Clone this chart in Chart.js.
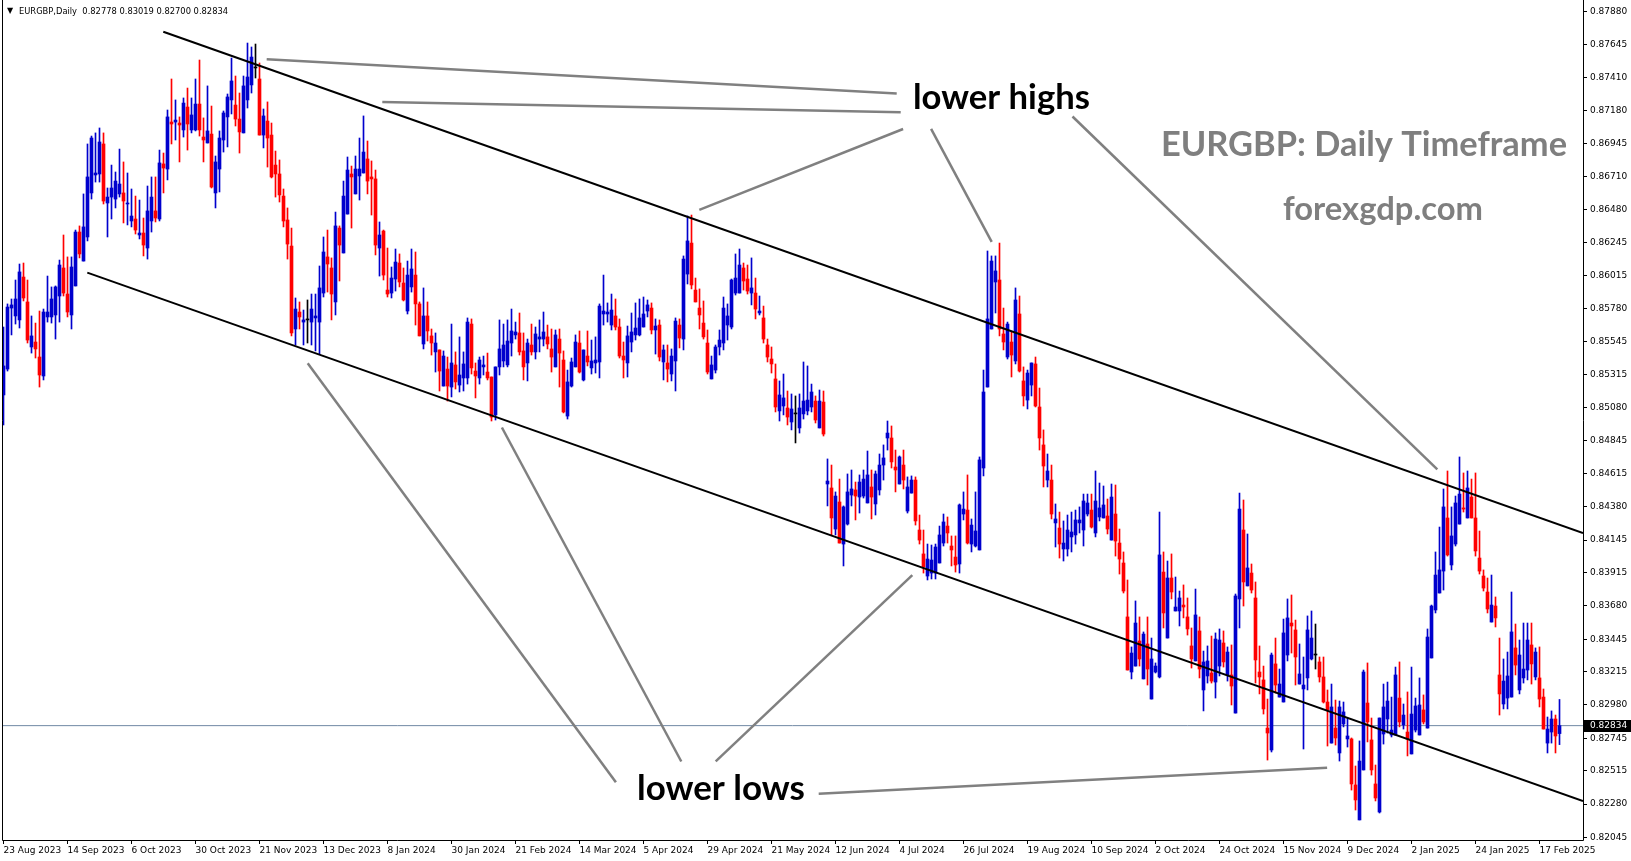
<!DOCTYPE html>
<html>
<head>
<meta charset="utf-8">
<title>EURGBP Daily</title>
<script src="https://cdn.jsdelivr.net/npm/chart.js@4.4.1/dist/chart.umd.min.js"></script>
<style>
  html, body { margin: 0; padding: 0; background: #ffffff; overflow: hidden; }
  canvas { display: block; }
</style>
</head>
<body>
<canvas id="eurgbp-chart" width="1631" height="861"></canvas>
<script>
/* ---- data: daily candles, 23 Aug 2023 .. Feb 2025 (one entry per bar) ---- */
const dateLabels = [
  "23 Aug 2023", "14 Sep 2023", "6 Oct 2023", "30 Oct 2023", "21 Nov 2023",
  "13 Dec 2023", "8 Jan 2024", "30 Jan 2024", "21 Feb 2024", "14 Mar 2024",
  "5 Apr 2024", "29 Apr 2024", "21 May 2024", "12 Jun 2024", "4 Jul 2024",
  "26 Jul 2024", "19 Aug 2024", "10 Sep 2024", "2 Oct 2024", "24 Oct 2024",
  "15 Nov 2024", "9 Dec 2024", "2 Jan 2025", "24 Jan 2025", "17 Feb 2025"
];
const dateTickBars = [0, 16, 32, 48, 64, 80, 96, 112, 128, 144, 160, 176, 192,
  208, 224, 240, 256, 272, 288, 304, 320, 336, 352, 368, 384];

const priceTicks = [0.87880, 0.87645, 0.87410, 0.87180, 0.86945, 0.86710, 0.86480,
  0.86245, 0.86015, 0.85780, 0.85545, 0.85315, 0.85080, 0.84845, 0.84615, 0.84380,
  0.84145, 0.83915, 0.83680, 0.83445, 0.83215, 0.82980, 0.82745, 0.82515, 0.82280, 0.82045];

const open = [
  0.85170,0.85353,0.85784,0.85728,0.85700,0.86003,0.85827,0.85509,0.85544,0.85438,
  0.85304,0.85721,0.85721,0.85735,0.85869,0.86067,0.85883,0.85735,0.85940,0.86321,
  0.86116,0.86286,0.86597,0.86724,0.86731,0.86943,0.86526,0.86568,0.86554,0.86590,
  0.86597,0.86519,0.86399,0.86413,0.86300,0.86314,0.86208,0.86399,0.86470,0.86413,
  0.86802,0.86766,0.87098,0.87098,0.87091,0.87042,0.87204,0.87042,0.87042,0.87225,
  0.86992,0.86950,0.87013,0.86597,0.86766,0.86971,0.87134,0.87254,0.87218,0.87119,
  0.87021,0.87254,0.87360,0.87480,0.87402,0.87006,0.87105,0.87006,0.86794,0.86731,
  0.86575,0.86406,0.86222,0.85636,0.85756,0.85685,0.85700,0.85685,0.85714,0.85685,
  0.85890,0.86145,0.86067,0.85827,0.86349,0.86173,0.86448,0.86731,0.86590,0.86717,
  0.86738,0.86837,0.86710,0.86696,0.86208,0.86328,0.85911,0.85890,0.85989,0.86102,
  0.85961,0.85763,0.85933,0.86017,0.85813,0.85530,0.85728,0.85587,0.85474,0.85488,
  0.85233,0.85353,0.85226,0.85382,0.85240,0.85290,0.85290,0.85671,0.85339,0.85290,
  0.85368,0.85332,0.85297,0.85029,0.85368,0.85410,0.85382,0.85537,0.85594,0.85608,
  0.85481,0.85396,0.85523,0.85474,0.85565,0.85565,0.85580,0.85495,0.85368,0.85565,
  0.85417,0.85021,0.85233,0.85368,0.85537,0.85276,0.85445,0.85361,0.85396,0.85403,
  0.85742,0.85742,0.85664,0.85728,0.85650,0.85445,0.85396,0.85544,0.85594,0.85594,
  0.85650,0.85763,0.85784,0.85629,0.85664,0.85403,0.85396,0.85318,0.85410,0.85664,
  0.85565,0.86024,0.86243,0.85911,0.85784,0.85678,0.85537,0.85283,0.85346,0.85509,
  0.85537,0.85664,0.85650,0.85890,0.85890,0.86067,0.85989,0.85890,0.85890,0.85749,
  0.85714,0.85523,0.85424,0.85283,0.85057,0.85092,0.85078,0.84979,0.85036,0.84937,
  0.85036,0.85057,0.85085,0.85127,0.84937,0.85120,0.84541,0.84513,0.84223,0.84414,
  0.84117,0.84258,0.84463,0.84499,0.84449,0.84456,0.84407,0.84520,0.84400,0.84499,
  0.84675,0.84866,0.84866,0.84661,0.84541,0.84675,0.84350,0.84477,0.84569,0.84216,
  0.84047,0.83891,0.83912,0.83912,0.83983,0.84124,0.84244,0.84103,0.84025,0.83976,
  0.84329,0.84357,0.84117,0.84103,0.84075,0.84654,0.85226,0.85636,0.85968,0.85982,
  0.85601,0.85438,0.85544,0.85410,0.85742,0.85269,0.85134,0.85240,0.85389,0.85085,
  0.84817,0.84569,0.84569,0.84266,0.84230,0.84082,0.84082,0.84167,0.84181,0.84266,
  0.84216,0.84329,0.84357,0.84195,0.84308,0.84301,0.84315,0.84145,0.84329,0.84124,
  0.83983,0.83602,0.83213,0.83255,0.83432,0.83164,0.83411,0.83022,0.83213,0.83178,
  0.83919,0.83453,0.83877,0.83644,0.83644,0.83686,0.83602,0.83397,0.83291,0.83503,
  0.83086,0.83185,0.83206,0.83142,0.83255,0.83418,0.83192,0.83192,0.82923,0.83729,
  0.84216,0.83821,0.83912,0.83736,0.83213,0.83157,0.82817,0.82662,0.83270,0.83036,
  0.83001,0.83333,0.83559,0.83510,0.83128,0.83093,0.83171,0.83305,0.83333,0.83284,
  0.83178,0.83001,0.82711,0.82817,0.82641,0.82846,0.82740,0.82740,0.82415,0.82168,
  0.82521,0.82994,0.82733,0.82422,0.82224,0.82775,0.82881,0.82768,0.82768,0.83029,
  0.82839,0.82789,0.82634,0.82803,0.82768,0.82945,0.82817,0.83312,0.83651,0.83771,
  0.83926,0.84301,0.83969,0.84117,0.84258,0.84372,0.84301,0.84449,0.84301,0.84018,
  0.83891,0.83778,0.83566,0.83679,0.83192,0.82987,0.83029,0.83036,0.83383,0.83086,
  0.83171,0.83227,0.83404,0.83178,0.83171,0.83036,0.82711,0.82789,0.82881,0.82778
];
const high = [
  0.85650,0.85813,0.85848,0.85982,0.86095,0.86102,0.85982,0.85728,0.85678,0.85763,
  0.85777,0.86010,0.85933,0.85940,0.86123,0.86300,0.86145,0.86145,0.86335,0.86364,
  0.86590,0.86943,0.86999,0.87021,0.87056,0.87021,0.86632,0.86794,0.86745,0.86907,
  0.86816,0.86738,0.86625,0.86575,0.86547,0.86420,0.86646,0.86710,0.86710,0.86900,
  0.86879,0.87183,0.87402,0.87254,0.87134,0.87268,0.87338,0.87268,0.87402,0.87536,
  0.87127,0.87353,0.87211,0.86858,0.87035,0.87176,0.87296,0.87550,0.87423,0.87303,
  0.87423,0.87656,0.87628,0.87649,0.87515,0.87190,0.87240,0.87091,0.86893,0.86830,
  0.86625,0.86491,0.86349,0.85855,0.85827,0.85770,0.85841,0.85883,0.85883,0.86081,
  0.86286,0.86335,0.86138,0.86462,0.86364,0.86681,0.86851,0.86787,0.86858,0.86985,
  0.87141,0.86964,0.86823,0.86759,0.86392,0.86335,0.86208,0.86074,0.86201,0.86166,
  0.86067,0.86116,0.86201,0.86180,0.85827,0.85926,0.85827,0.85636,0.85608,0.85488,
  0.85481,0.85438,0.85671,0.85474,0.85580,0.85474,0.85714,0.85707,0.85396,0.85438,
  0.85445,0.85466,0.85297,0.85368,0.85700,0.85671,0.85700,0.85777,0.85685,0.85749,
  0.85608,0.85565,0.85671,0.85650,0.85700,0.85756,0.85664,0.85636,0.85629,0.85636,
  0.85481,0.85346,0.85431,0.85594,0.85622,0.85488,0.85622,0.85558,0.85580,0.85813,
  0.86017,0.85820,0.85883,0.85848,0.85707,0.85544,0.85657,0.85749,0.85820,0.85848,
  0.85862,0.85841,0.85820,0.85707,0.85700,0.85523,0.85523,0.85495,0.85714,0.85707,
  0.86152,0.86434,0.86441,0.85996,0.85919,0.85834,0.85629,0.85445,0.85523,0.85629,
  0.85862,0.85813,0.85989,0.86166,0.86201,0.86102,0.86088,0.86138,0.85996,0.85869,
  0.85798,0.85565,0.85509,0.85389,0.85269,0.85318,0.85198,0.85177,0.85163,0.85177,
  0.85403,0.85375,0.85247,0.85163,0.85205,0.85198,0.84718,0.84675,0.84485,0.84576,
  0.84386,0.84612,0.84640,0.84555,0.84605,0.84640,0.84774,0.84640,0.84633,0.84753,
  0.84817,0.84986,0.84951,0.84781,0.84739,0.84781,0.84591,0.84598,0.84591,0.84322,
  0.84216,0.84117,0.84110,0.84117,0.84244,0.84329,0.84308,0.84174,0.84174,0.84400,
  0.84485,0.84605,0.84294,0.84485,0.84732,0.85346,0.86187,0.86152,0.86152,0.86243,
  0.85784,0.85685,0.85615,0.85926,0.85869,0.85368,0.85346,0.85396,0.85438,0.85219,
  0.84923,0.84753,0.84675,0.84400,0.84343,0.84280,0.84322,0.84343,0.84357,0.84379,
  0.84470,0.84470,0.84470,0.84633,0.84548,0.84527,0.84435,0.84541,0.84534,0.84223,
  0.84061,0.83863,0.83390,0.83715,0.83602,0.83496,0.83602,0.83453,0.83277,0.84343,
  0.84061,0.83997,0.84047,0.83884,0.83785,0.83828,0.83736,0.83524,0.83799,0.83602,
  0.83361,0.83397,0.83467,0.83489,0.83517,0.83503,0.83390,0.83404,0.83764,0.84477,
  0.84428,0.84188,0.83976,0.83849,0.83397,0.83255,0.83022,0.83347,0.83453,0.83234,
  0.83587,0.83729,0.83757,0.83580,0.83411,0.83319,0.83609,0.83644,0.83552,0.83319,
  0.83319,0.83086,0.83128,0.83015,0.83008,0.83001,0.82888,0.82747,0.82549,0.82726,
  0.83227,0.83277,0.82888,0.82556,0.82888,0.83128,0.83142,0.83036,0.83248,0.83284,
  0.82987,0.83072,0.83248,0.83029,0.83171,0.83051,0.83517,0.83686,0.84061,0.84237,
  0.84506,0.84633,0.84379,0.84456,0.84732,0.84619,0.84633,0.84576,0.84619,0.84209,
  0.83934,0.83877,0.83898,0.83743,0.83453,0.83305,0.83354,0.83778,0.83552,0.83439,
  0.83559,0.83559,0.83559,0.83383,0.83390,0.83093,0.82895,0.82938,0.82909,0.83019
];
const low = [
  0.84958,0.85339,0.85594,0.85671,0.85643,0.85834,0.85537,0.85466,0.85431,0.85226,
  0.85276,0.85685,0.85678,0.85565,0.85685,0.85869,0.85721,0.85636,0.85940,0.86138,
  0.86116,0.86258,0.86554,0.86674,0.86674,0.86519,0.86286,0.86413,0.86491,0.86568,
  0.86385,0.86371,0.86357,0.86307,0.86272,0.86152,0.86130,0.86321,0.86392,0.86399,
  0.86597,0.86689,0.86943,0.86971,0.86816,0.86992,0.86900,0.87021,0.87035,0.86999,
  0.86816,0.86950,0.86632,0.86491,0.86604,0.86886,0.86922,0.87155,0.87070,0.86879,
  0.87021,0.87197,0.87303,0.87409,0.87006,0.86915,0.86780,0.86703,0.86568,0.86533,
  0.86357,0.86130,0.85587,0.85523,0.85636,0.85523,0.85537,0.85523,0.85481,0.85459,
  0.85862,0.85897,0.85700,0.85735,0.85975,0.86173,0.86448,0.86349,0.86590,0.86547,
  0.86738,0.86590,0.86441,0.86159,0.86010,0.85982,0.85862,0.85855,0.85904,0.85933,
  0.85834,0.85742,0.85897,0.85664,0.85587,0.85495,0.85551,0.85452,0.85332,0.85198,
  0.85233,0.85127,0.85156,0.85212,0.85191,0.85198,0.85247,0.85318,0.85149,0.85247,
  0.85311,0.85276,0.84986,0.84993,0.85311,0.85368,0.85368,0.85445,0.85565,0.85452,
  0.85276,0.85269,0.85452,0.85424,0.85474,0.85516,0.85495,0.85332,0.85368,0.85226,
  0.85043,0.85000,0.85226,0.85368,0.85325,0.85269,0.85375,0.85318,0.85325,0.85290,
  0.85664,0.85685,0.85629,0.85629,0.85431,0.85290,0.85297,0.85474,0.85558,0.85587,
  0.85650,0.85721,0.85601,0.85459,0.85410,0.85276,0.85262,0.85269,0.85198,0.85502,
  0.85488,0.85954,0.85919,0.85827,0.85636,0.85565,0.85318,0.85283,0.85325,0.85452,
  0.85488,0.85558,0.85636,0.85876,0.85890,0.85911,0.85883,0.85806,0.85707,0.85735,
  0.85537,0.85403,0.85325,0.85050,0.84986,0.85029,0.84958,0.84923,0.84831,0.84901,
  0.85000,0.85029,0.85050,0.84972,0.84937,0.84880,0.84386,0.84181,0.84181,0.84124,
  0.83962,0.84251,0.84386,0.84287,0.84336,0.84442,0.84407,0.84294,0.84322,0.84463,
  0.84569,0.84781,0.84654,0.84485,0.84541,0.84506,0.84336,0.84477,0.84251,0.84117,
  0.83912,0.83863,0.83870,0.83870,0.83983,0.84103,0.84124,0.83962,0.83919,0.83912,
  0.84287,0.84117,0.84061,0.84096,0.84075,0.84598,0.85226,0.85636,0.85749,0.85587,
  0.85488,0.85424,0.85297,0.85389,0.85332,0.85092,0.85071,0.85163,0.85085,0.84781,
  0.84520,0.84520,0.84294,0.84096,0.84018,0.83997,0.84032,0.84061,0.84117,0.84195,
  0.84103,0.84315,0.84230,0.84167,0.84280,0.84301,0.84188,0.84145,0.84032,0.83905,
  0.83771,0.83227,0.83164,0.83255,0.83255,0.83164,0.83121,0.83022,0.83206,0.83171,
  0.83524,0.83453,0.83729,0.83644,0.83538,0.83595,0.83474,0.83241,0.83291,0.83171,
  0.82938,0.83135,0.83135,0.83029,0.83185,0.83248,0.83149,0.82980,0.82923,0.83524,
  0.83679,0.83821,0.83771,0.83135,0.83058,0.82916,0.82591,0.82648,0.83065,0.83036,
  0.83001,0.83291,0.83347,0.83121,0.83128,0.82669,0.83086,0.83298,0.83234,0.83142,
  0.82994,0.82690,0.82711,0.82697,0.82584,0.82825,0.82683,0.82379,0.82238,0.82168,
  0.82521,0.82719,0.82485,0.82302,0.82217,0.82704,0.82782,0.82754,0.82768,0.82825,
  0.82810,0.82620,0.82634,0.82789,0.82768,0.82846,0.82817,0.83312,0.83630,0.83771,
  0.83792,0.84032,0.83934,0.84103,0.84258,0.84343,0.84301,0.84301,0.84032,0.83905,
  0.83785,0.83630,0.83566,0.83531,0.82909,0.82952,0.82952,0.83036,0.83192,0.83058,
  0.83135,0.83157,0.83128,0.83157,0.82966,0.82810,0.82641,0.82711,0.82641,0.82700
];
const close = [
  0.85375,0.85791,0.85806,0.85848,0.86039,0.85855,0.85558,0.85587,0.85495,0.85311,
  0.85756,0.85756,0.85848,0.85933,0.86088,0.85890,0.85756,0.86074,0.86321,0.86166,
  0.86357,0.86710,0.86985,0.86738,0.86957,0.86540,0.86568,0.86632,0.86681,0.86660,
  0.86540,0.86526,0.86434,0.86335,0.86314,0.86229,0.86470,0.86568,0.86420,0.86809,
  0.86773,0.87134,0.87084,0.87112,0.87077,0.87232,0.87084,0.87148,0.87225,0.87042,
  0.86971,0.87035,0.86639,0.86816,0.86985,0.87162,0.87275,0.87388,0.87119,0.87028,
  0.87353,0.87416,0.87557,0.87480,0.87006,0.87141,0.86985,0.86710,0.86731,0.86583,
  0.86399,0.86236,0.85608,0.85777,0.85721,0.85700,0.85700,0.85777,0.85728,0.85926,
  0.86180,0.86095,0.85883,0.86364,0.86229,0.86575,0.86759,0.86710,0.86766,0.86766,
  0.86886,0.86681,0.86696,0.86229,0.86300,0.86017,0.85883,0.85996,0.86109,0.85968,
  0.85841,0.86017,0.86060,0.85813,0.85587,0.85728,0.85622,0.85537,0.85537,0.85339,
  0.85445,0.85233,0.85396,0.85262,0.85311,0.85389,0.85685,0.85361,0.85304,0.85417,
  0.85382,0.85290,0.85014,0.85368,0.85495,0.85523,0.85551,0.85622,0.85615,0.85474,
  0.85368,0.85537,0.85474,0.85601,0.85580,0.85615,0.85530,0.85438,0.85594,0.85466,
  0.85050,0.85262,0.85403,0.85544,0.85332,0.85488,0.85403,0.85410,0.85417,0.85798,
  0.85763,0.85756,0.85770,0.85650,0.85445,0.85417,0.85587,0.85615,0.85643,0.85714,
  0.85742,0.85806,0.85629,0.85657,0.85438,0.85488,0.85353,0.85445,0.85692,0.85572,
  0.86130,0.86258,0.85947,0.85827,0.85735,0.85580,0.85332,0.85382,0.85509,0.85558,
  0.85784,0.85728,0.85982,0.85996,0.86088,0.85975,0.85904,0.85926,0.85777,0.85763,
  0.85565,0.85438,0.85389,0.85085,0.85170,0.85149,0.85014,0.85071,0.85036,0.85078,
  0.85127,0.85134,0.85191,0.84993,0.85127,0.84894,0.84562,0.84301,0.84456,0.84124,
  0.84379,0.84485,0.84506,0.84456,0.84555,0.84576,0.84605,0.84449,0.84612,0.84675,
  0.84725,0.84901,0.84697,0.84640,0.84732,0.84569,0.84520,0.84569,0.84280,0.84145,
  0.83955,0.84011,0.84004,0.84096,0.84181,0.84273,0.84195,0.84075,0.83969,0.84393,
  0.84364,0.84124,0.84251,0.84209,0.84711,0.85191,0.85707,0.86116,0.86046,0.85636,
  0.85544,0.85671,0.85452,0.85841,0.85339,0.85163,0.85325,0.85396,0.85092,0.84866,
  0.84668,0.84633,0.84329,0.84294,0.84117,0.84124,0.84216,0.84202,0.84287,0.84287,
  0.84421,0.84407,0.84237,0.84421,0.84372,0.84393,0.84223,0.84449,0.84138,0.84011,
  0.83785,0.83227,0.83347,0.83559,0.83305,0.83481,0.83234,0.83305,0.83255,0.84040,
  0.83630,0.83877,0.83778,0.83672,0.83736,0.83672,0.83517,0.83305,0.83616,0.83234,
  0.83284,0.83291,0.83149,0.83446,0.83439,0.83284,0.83354,0.83114,0.83750,0.84364,
  0.83849,0.83948,0.83792,0.83298,0.83178,0.82952,0.82782,0.83333,0.83121,0.83128,
  0.83489,0.83595,0.83538,0.83319,0.83199,0.83121,0.83510,0.83453,0.83333,0.83178,
  0.83001,0.82945,0.82966,0.82747,0.82966,0.82931,0.82761,0.82422,0.82309,0.82584,
  0.83213,0.82860,0.82521,0.82323,0.82888,0.82966,0.83008,0.82803,0.83192,0.82860,
  0.82909,0.82740,0.82916,0.82973,0.82980,0.82860,0.83460,0.83679,0.83898,0.83934,
  0.84379,0.84040,0.84174,0.84407,0.84470,0.84364,0.84513,0.84301,0.84068,0.83926,
  0.83806,0.83658,0.83686,0.83595,0.83058,0.83149,0.83185,0.83496,0.83262,0.83333,
  0.83234,0.83439,0.83270,0.83354,0.83022,0.82810,0.82810,0.82881,0.82761,0.82834
];

/* ---- drawn objects, in (bar index, price) ---- */
const upperChannel = [[39.95, 0.87736], [394.875, 0.84195]];
const lowerChannel = [[20.95, 0.86034], [394.875, 0.82302]];
const highPointers = [
  [[65.8, 0.87541], [223.3, 0.87299]],
  [[94.7, 0.87239], [224.3, 0.87167]],
  [[173.95, 0.86477], [224.9, 0.87049]],
  [[231.9, 0.87049], [247.05, 0.86251]],
  [[267.25, 0.87137], [358.45, 0.84645]]
];
const lowPointers = [
  [[76.05, 0.85394], [153.1, 0.82434]],
  [[124.6, 0.84940], [169.45, 0.82581]],
  [[227.2, 0.83897], [178.05, 0.82581]],
  [[203.8, 0.82353], [330.9, 0.82537]]
];
const lastBid = 0.82834;
const headerText = "EURGBP,Daily  0.82778 0.83019 0.82700 0.82834";

/* ---- colours / layout ------------------------------------------- */
const C_UP    = "#0000cd";
const C_DOWN  = "#ff0000";
const C_DOJI  = "#000000";
const C_NOTE  = "#808080";
const C_BID   = "#7088a4";
const AXIS_FONT = { family: "'DejaVu Sans'", size: 9 };

const X_MIN = -0.375, X_MAX = 394.875;
const Y_MIN = 0.8202624, Y_MAX = 0.8796;

const notes = [
  { text: "lower highs", x: 913, y: 109, w: 177, color: "#000000" },
  { text: "lower lows", x: 637, y: 800, w: 168, color: "#000000" },
  { text: "EURGBP: Daily Timeframe", x: 1161, y: 156, w: 406, color: "#7f7f7f" },
  { text: "forexgdp.com", x: 1283, y: 220, w: 200, color: "#7f7f7f" }
];

function candleColor(i) {
  if (open[i] === close[i]) return C_DOJI;
  return close[i] > open[i] ? C_UP : C_DOWN;
}

function segment(pts, color, width, order) {
  return {
    type: "line",
    data: pts.map((p) => ({ x: p[0], y: p[1] })),
    borderColor: color,
    borderWidth: width,
    pointRadius: 0,
    tension: 0,
    fill: false,
    order: order
  };
}

function fitFont(ctx, text, family, weight, width) {
  ctx.font = weight + " 100px " + family;
  const size = 100 * width / ctx.measureText(text).width;
  ctx.font = weight + " " + size.toFixed(2) + "px " + family;
}

const bars = open.map((_, i) => i);

/* frame, bid label, header and the text notes */
const overlay = {
  id: "overlay",
  beforeDraw(chart) {
    const ctx = chart.ctx;
    ctx.save();
    ctx.fillStyle = "#ffffff";
    ctx.fillRect(0, 0, chart.width, chart.height);
    ctx.restore();
  },
  afterDraw(chart) {
    const { ctx, chartArea: a, scales } = chart;
    ctx.save();

    ctx.strokeStyle = "#000000";
    ctx.lineWidth = 1;
    ctx.beginPath();
    ctx.moveTo(a.left + 0.5, a.top);
    ctx.lineTo(a.left + 0.5, a.bottom + 0.5);
    ctx.lineTo(a.right + 0.5, a.bottom + 0.5);
    ctx.lineTo(a.right + 0.5, a.top);
    ctx.stroke();

    const yb = Math.round(scales.y.getPixelForValue(lastBid));
    ctx.fillStyle = "#000000";
    ctx.fillRect(a.right + 1, yb - 6, chart.width - a.right - 1, 12);
    ctx.fillStyle = "#ffffff";
    ctx.font = AXIS_FONT.size + "px " + AXIS_FONT.family;
    ctx.textAlign = "left";
    ctx.textBaseline = "middle";
    ctx.fillText(lastBid.toFixed(5), a.right + 7, yb);

    ctx.fillStyle = "#000000";
    ctx.font = "8px 'DejaVu Sans'";
    ctx.textBaseline = "alphabetic";
    ctx.fillText("\u25BC", 7, 13);
    fitFont(ctx, headerText, "'DejaVu Sans'", "normal", 209);
    ctx.fillText(headerText, 19, 14);

    notes.forEach((n) => {
      fitFont(ctx, n.text, "Lato", "bold", n.w);
      ctx.fillStyle = n.color;
      ctx.fillText(n.text, n.x, n.y);
    });
    ctx.restore();
  }
};

new Chart(document.getElementById("eurgbp-chart").getContext("2d"), {
  type: "bar",
  data: {
    datasets: [
      ...highPointers.map((p) => segment(p, C_NOTE, 2.5, 0)),
      ...lowPointers.map((p) => segment(p, C_NOTE, 2.5, 0)),
      segment(upperChannel, "#000000", 2, 1),
      segment(lowerChannel, "#000000", 2, 1),
      {
        type: "bar",
        data: bars.map((i) => ({ x: i, y: [open[i], close[i]] })),
        backgroundColor: bars.map(candleColor),
        barThickness: 3,
        minBarLength: 1,
        grouped: false,
        borderWidth: 0,
        order: 2
      },
      {
        type: "bar",
        data: bars.map((i) => ({ x: i, y: [low[i], high[i]] })),
        backgroundColor: bars.map(candleColor),
        barThickness: 1,
        grouped: false,
        borderWidth: 0,
        order: 3
      },
      segment([[X_MIN, lastBid], [X_MAX, lastBid]], C_BID, 1, 4)
    ]
  },
  options: {
    responsive: false,
    animation: false,
    events: [],
    layout: { padding: { left: 2, top: 0, right: 0, bottom: 0 } },
    plugins: { legend: { display: false }, tooltip: { enabled: false } },
    scales: {
      x: {
        type: "linear",
        min: X_MIN,
        max: X_MAX,
        offset: false,
        border: { display: false },
        grid: { display: true, offset: false, drawOnChartArea: false, drawTicks: true,
                tickLength: 4, color: "#000000" },
        ticks: {
          font: AXIS_FONT, color: "#000000", align: "start", padding: 1,
          autoSkip: false, maxRotation: 0, minRotation: 0,
          callback: (v, i) => dateLabels[i]
        },
        afterBuildTicks: (s) => { s.ticks = dateTickBars.map((v) => ({ value: v })); },
        afterFit: (s) => { s.height = 21; s.paddingLeft = 0; s.paddingRight = 0; }
      },
      y: {
        type: "linear",
        position: "right",
        min: Y_MIN,
        max: Y_MAX,
        border: { display: false },
        grid: { display: true, drawOnChartArea: false, drawTicks: true,
                tickLength: 4, color: "#000000" },
        ticks: {
          font: AXIS_FONT, color: "#000000", padding: 3,
          callback: (v) => v.toFixed(5)
        },
        afterBuildTicks: (s) => { s.ticks = priceTicks.map((v) => ({ value: v })); },
        afterFit: (s) => { s.width = 48; s.paddingTop = 0; s.paddingBottom = 0; }
      }
    }
  },
  plugins: [overlay]
});
</script>
</body>
</html>
